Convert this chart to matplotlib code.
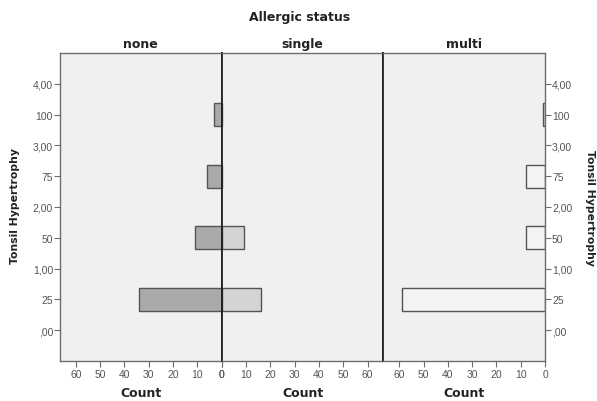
import matplotlib
matplotlib.use("Agg")
import matplotlib.pyplot as plt

categories = ["25", "50", "75", "100"]
cat_pos = [0.5, 1.5, 2.5, 3.5]
none_counts = [34, 11, 6, 3]
single_counts = [16, 9, 0, 0]
multi_counts = [59, 8, 8, 1]
ytick_pos = [0, 0.5, 1, 1.5, 2, 2.5, 3, 3.5, 4]
ytick_labels = [",00", "25", "1,00", "50", "2,00", "75", "3,00", "100", "4,00"]
xticks = [0, 10, 20, 30, 40, 50, 60]
panels = ["none", "single", "multi"]

W, H = 597, 402
fig = plt.figure(figsize=(W / 100, H / 100), dpi=100)
fig.patch.set_facecolor("white")

bg = "#eff0f2"
frame = "#6e6e6e"
tickc = "#555555"
colors = ["#a9aaac", "#d3d4d6", "#f3f3f3"]
data = [none_counts, single_counts, multi_counts]

left0, top, bot = 60, 54, 362
pw = 161.7
xmax = 66.5
axes = []
for i in range(3):
    x0 = left0 + i * pw
    ax = fig.add_axes([x0 / W, 1 - bot / H, pw / W, (bot - top) / H])
    ax.set_facecolor(bg)
    ax.barh(cat_pos, data[i], height=0.37, color=colors[i],
            edgecolor="#555555", linewidth=1.0, zorder=2)
    ax.set_ylim(-0.5, 4.5)
    if i == 1:
        ax.set_xlim(0, xmax)
    else:
        ax.set_xlim(xmax, 0)
    ax.set_xticks(xticks)
    ax.set_xticklabels([str(t) for t in xticks], fontsize=7.5, color=tickc,
                       family="Liberation Sans")
    ax.tick_params(axis="x", direction="out", length=4, width=0.8, color=frame, pad=2)
    for s in ax.spines.values():
        s.set_color(frame)
        s.set_linewidth(1.0)
    if i == 0:
        ax.set_yticks(ytick_pos)
        ax.set_yticklabels(ytick_labels, fontsize=7.5, color=tickc, family="Liberation Sans")
        ax.tick_params(axis="y", direction="out", length=4, width=0.8, color=frame, pad=1)
        ax.spines["right"].set_color("#222222")
        ax.spines["right"].set_linewidth(1.3)
    elif i == 1:
        ax.set_yticks([])
        ax.spines["left"].set_color("#222222")
        ax.spines["left"].set_linewidth(1.3)
        ax.spines["right"].set_color("#222222")
        ax.spines["right"].set_linewidth(1.3)
    else:
        ax.yaxis.tick_right()
        ax.set_yticks(ytick_pos)
        ax.set_yticklabels(ytick_labels, fontsize=7.5, color=tickc, family="Liberation Sans")
        ax.tick_params(axis="y", direction="out", length=4, width=0.8, color=frame, pad=1)
        ax.spines["left"].set_color("#222222")
        ax.spines["left"].set_linewidth(1.3)
    ax.set_xlabel("Count", fontsize=9, fontweight="bold", color="#222222", labelpad=5)
    ax.set_title(panels[i], fontsize=9, fontweight="bold", color="#222222", pad=4)
    axes.append(ax)

fig.text(300 / W, 1 - 18 / H, "Allergic status", ha="center", va="center",
         fontsize=9, fontweight="bold", color="#222222")
fig.text(15 / W, 1 - 206 / H, "Tonsil Hypertrophy", rotation=90, ha="center", va="center",
         fontsize=7.8, fontweight="bold", color="#222222")
fig.text(590 / W, 1 - 208 / H, "Tonsil Hypertrophy", rotation=270, ha="center", va="center",
         fontsize=7.8, fontweight="bold", color="#222222")

fig.savefig("out.png", dpi=100)
